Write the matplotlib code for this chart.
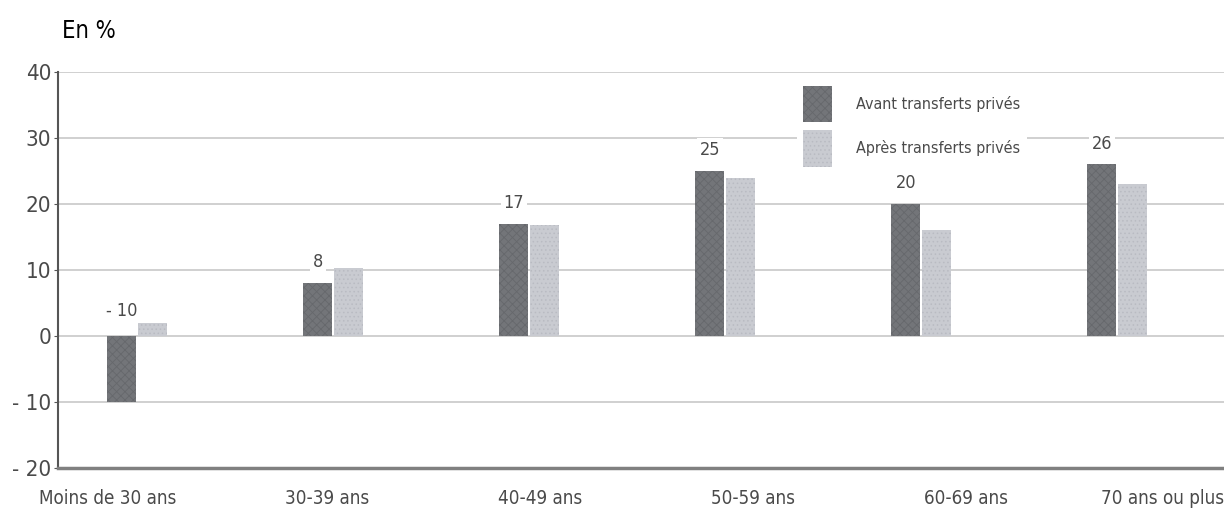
import numpy as np
import matplotlib.pyplot as plt
from matplotlib.patches import Patch

# gain/loss per age group, before and after private transfers (%)
categories = ["Moins de 30 ans", "30-39 ans", "40-49 ans", "50-59 ans", "60-69 ans", "70 ans ou plus"]
avant = [-10, 8, 17, 25, 20, 26]
apres = [2, 10.3, 16.8, 24, 16, 23]
y_ticks = [-20, -10, 0, 10, 20, 30, 40]
y_tick_labels = ["- 20", "- 10", "0", "10", "20", "30", "40"]
series_names = ["Avant transferts privés", "Après transferts privés"]

plt.rcParams['font.family'] = ['DejaVu Sans']
plt.rcParams['font.stretch'] = 'condensed'
plt.rcParams['hatch.linewidth'] = 0.6

dark = "#737579"
light = "#c9cbd1"
text_grey = "#4a4a4a"

fig = plt.figure(figsize=(12.24, 5.23), dpi=100)
ax = fig.add_axes([0.0474, 0.1052, 0.9526, 0.7571])

x = np.arange(len(categories))
w = 0.148
ax.bar(x - w / 2 - 0.004, avant, w, color=dark, edgecolor="#66686c", hatch="xxxx", linewidth=0, zorder=3)
ax.bar(x + w / 2 + 0.004, apres, w, color=light, edgecolor="#b9bbc2", hatch="....", linewidth=0, zorder=3)

# value labels above the "avant" bars (white box hides the gridline, bars stay on top)
for xi, v in zip(x, avant):
    txt = f"- {abs(v)}" if v < 0 else str(v)
    off = 18 if v < 0 else 15
    ax.annotate(txt, (xi - w / 2 - 0.004, max(v, 0)), xytext=(0, off), textcoords="offset points",
                ha="center", va="center", fontsize=13, color=text_grey, zorder=2.5,
                bbox=dict(boxstyle="square,pad=0.15", fc="white", ec="none"))

ax.set_ylim(-20, 40)
ax.set_xlim(-0.403, 5.546)
ax.set_yticks(y_ticks)
ax.set_yticklabels(y_tick_labels, fontsize=16, color=text_grey)
ax.yaxis.grid(True, color="#c8c8c8", linewidth=1.2, zorder=0)
ax.tick_params(axis="y", length=3, color="#555555", pad=2)

# category labels sit on a slightly wider spacing than the bar groups
ax.set_xticks([-0.148, 0.969, 2.056, 3.143, 4.230, 5.235])
ax.set_xticklabels(categories, fontsize=13.5, color=text_grey)
ax.tick_params(axis="x", length=0, pad=15)

for side in ["top", "right"]:
    ax.spines[side].set_visible(False)
ax.spines["left"].set_color("#555555")
ax.spines["left"].set_linewidth(1.5)
ax.spines["bottom"].set_color("#808080")
ax.spines["bottom"].set_linewidth(2.5)

handles = [Patch(facecolor=dark, edgecolor="#66686c", hatch="xxxx", linewidth=0),
           Patch(facecolor=light, edgecolor="#b9bbc2", hatch="....", linewidth=0)]
leg = ax.legend(handles, series_names, loc="upper left", bbox_to_anchor=(0.627, 1.0),
                frameon=True, fontsize=11.5, handlelength=1.8, handleheight=3.1,
                labelspacing=0.5, handletextpad=1.5, borderpad=0.4)
leg.get_frame().set_edgecolor("none")
leg.get_frame().set_facecolor("white")
leg.get_frame().set_alpha(1)
for t in leg.get_texts():
    t.set_color(text_grey)

fig.text(0.051, 0.94, "En %", fontsize=17, color="black", ha="left", va="center")

fig.savefig("out.png", dpi=100)
